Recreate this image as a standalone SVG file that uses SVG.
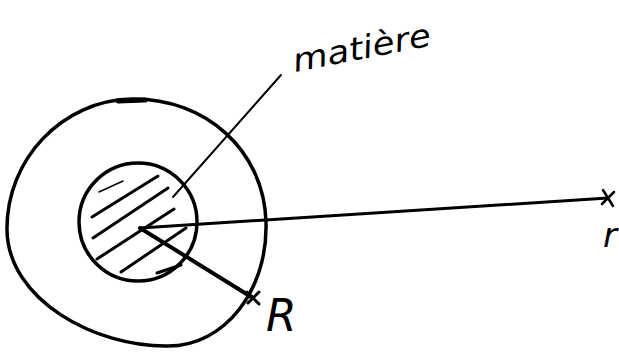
<svg xmlns="http://www.w3.org/2000/svg" width="619" height="353" viewBox="0 0 619 353">
<style>
.ink{fill:none;stroke:#000;stroke-linecap:round;stroke-linejoin:round}
.hand{font-family:"DejaVu Sans",sans-serif;font-style:italic;fill:#000}
</style>
<rect width="619" height="353" fill="#fff"/>
<g id="outer">
<path class="ink" stroke-width="3.5" d="M132,99 C205,98 264,150 266,222 C268,290 225,346 168,346 C95,347 8,300 7,230 C6,160 62,100 132,99 Z"/>
<path class="ink" stroke-width="5" d="M118,101 L145,100"/>
</g>
<g id="inner">
<circle class="ink" stroke-width="3.5" cx="138" cy="222" r="59"/>
<g class="ink" stroke-width="3">
<path d="M99,192 L123,181" stroke-width="1.5"/>
<path d="M92,217 L158,176"/>
<path d="M93,238 L168,188"/>
<path d="M97,259 L174,209"/>
<path d="M121,272 L186,228"/>
<path d="M157,273 L181,265"/>
</g>
</g>
<g id="connectors">
<path class="ink" stroke-width="2" d="M173,197 L281,75"/>
<path class="ink" stroke-width="3" d="M140,228 L608,198"/>
<path class="ink" stroke-width="2.5" d="M603,190 L613,206 M602,204 L614,192"/>
<path class="ink" stroke-width="4" d="M140,228 L253,298"/>
<path class="ink" stroke-width="3" d="M247,292 L259,304 M248,303 L259,292"/>
</g>
<g id="labels">
<text class="hand" x="295" y="72" font-size="32" textLength="140" lengthAdjust="spacingAndGlyphs" transform="rotate(-11 295 72)">matière</text>
<text class="hand" x="603" y="247" font-size="34">r</text>
<text class="hand" x="266" y="331" font-size="44">R</text>
</g>
</svg>
